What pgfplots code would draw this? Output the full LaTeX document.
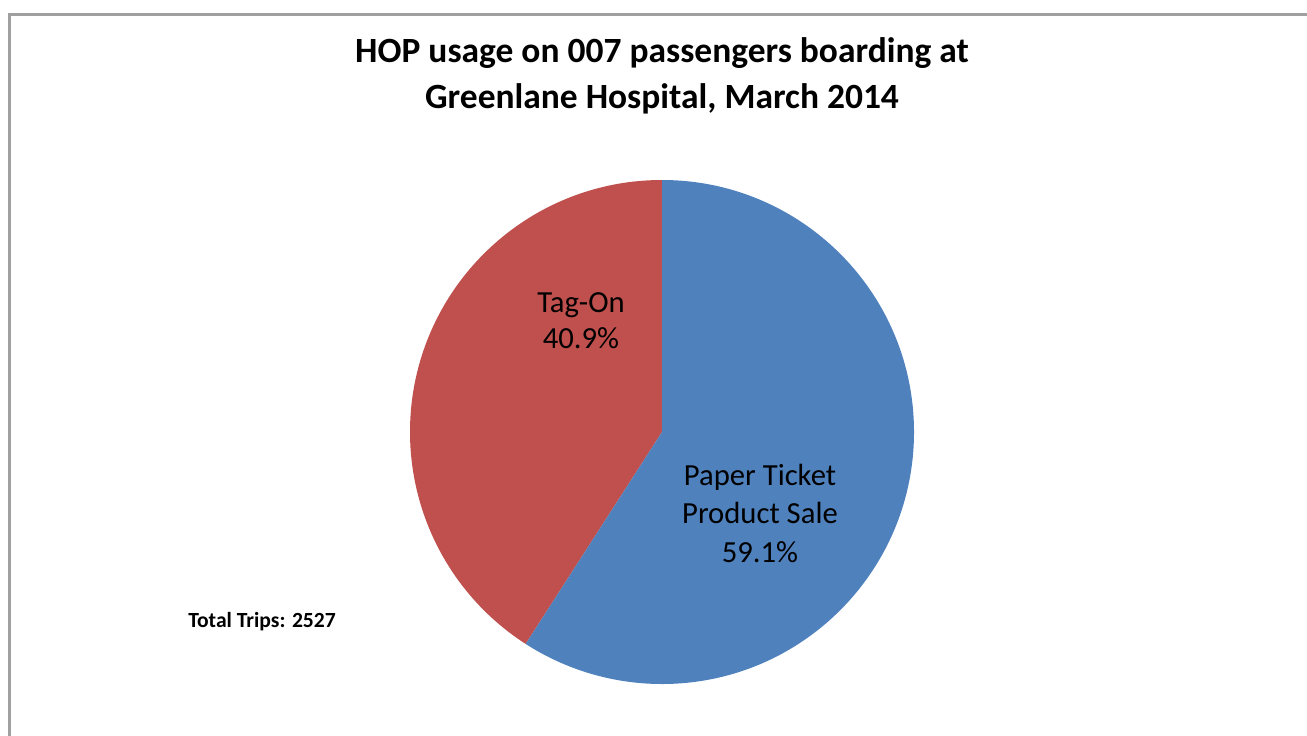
\documentclass[border=0pt]{standalone}
\usepackage{pgfplots}
\pgfplotsset{compat=1.18}
\usepackage{pgfplotstable}
\usepackage{fontspec}
\setmainfont{Carlito}

\definecolor{tagred}{HTML}{C0504D}
\definecolor{paperblue}{HTML}{4F81BD}
\definecolor{framegray}{HTML}{A0A0A0}

% share of trips, percent
\pgfplotstableread{
label share
TagOn 40.9
Paper 59.1
}\piedata

\pgfplotstablegetelem{0}{share}\of\piedata
\pgfmathsetmacro{\tagend}{90+3.6*\pgfplotsretval}
\pgfmathsetmacro{\paperend}{\tagend-360}

\begin{document}
\begin{tikzpicture}
\begin{axis}[
    scale only axis,
    width=980.25pt, height=551.25pt,
    xmin=0, xmax=1307, ymin=0, ymax=735,
    y dir=reverse,
    hide axis,
    clip=false,
]
\coordinate (TL) at (axis cs:0,0);
\coordinate (BR) at (axis cs:1307,735);
\draw[framegray, line width=1.8pt] (axis cs:9.5,740) |- (axis cs:1312,14.5);

\fill[tagred] (axis cs:662,432) -- ++(90:189pt)
    arc[start angle=90, end angle=\tagend, radius=189pt] -- cycle;
\fill[paperblue] (axis cs:662,432) -- ++(90:189pt)
    arc[start angle=90, end angle=\paperend, radius=189pt] -- cycle;

\node[anchor=base, inner sep=0pt, font=\fontsize{26.6}{32}\selectfont\bfseries]
    at (axis cs:662,63) {HOP usage on 007 passengers boarding at};
\node[anchor=base, inner sep=0pt, font=\fontsize{26.6}{32}\selectfont\bfseries]
    at (axis cs:662,108) {Greenlane Hospital, March 2014};

\node[anchor=base, inner sep=0pt, font=\fontsize{23}{28}\selectfont]
    at (axis cs:581,312) {Tag-On};
\node[anchor=base, inner sep=0pt, font=\fontsize{23}{28}\selectfont]
    at (axis cs:581,348) {40.9\%};

\node[anchor=base, inner sep=0pt, font=\fontsize{23}{28}\selectfont]
    at (axis cs:760,485) {Paper Ticket};
\node[anchor=base, inner sep=0pt, font=\fontsize{23}{28}\selectfont]
    at (axis cs:760,523) {Product Sale};
\node[anchor=base, inner sep=0pt, font=\fontsize{23}{28}\selectfont]
    at (axis cs:760,562) {59.1\%};

\node[anchor=base west, inner sep=0pt, font=\fontsize{16.2}{19}\selectfont\bfseries]
    at (axis cs:188,627) {Total Trips: 2527};
\end{axis}
\pgfresetboundingbox
\path (TL) rectangle (BR);
\end{tikzpicture}
\end{document}
